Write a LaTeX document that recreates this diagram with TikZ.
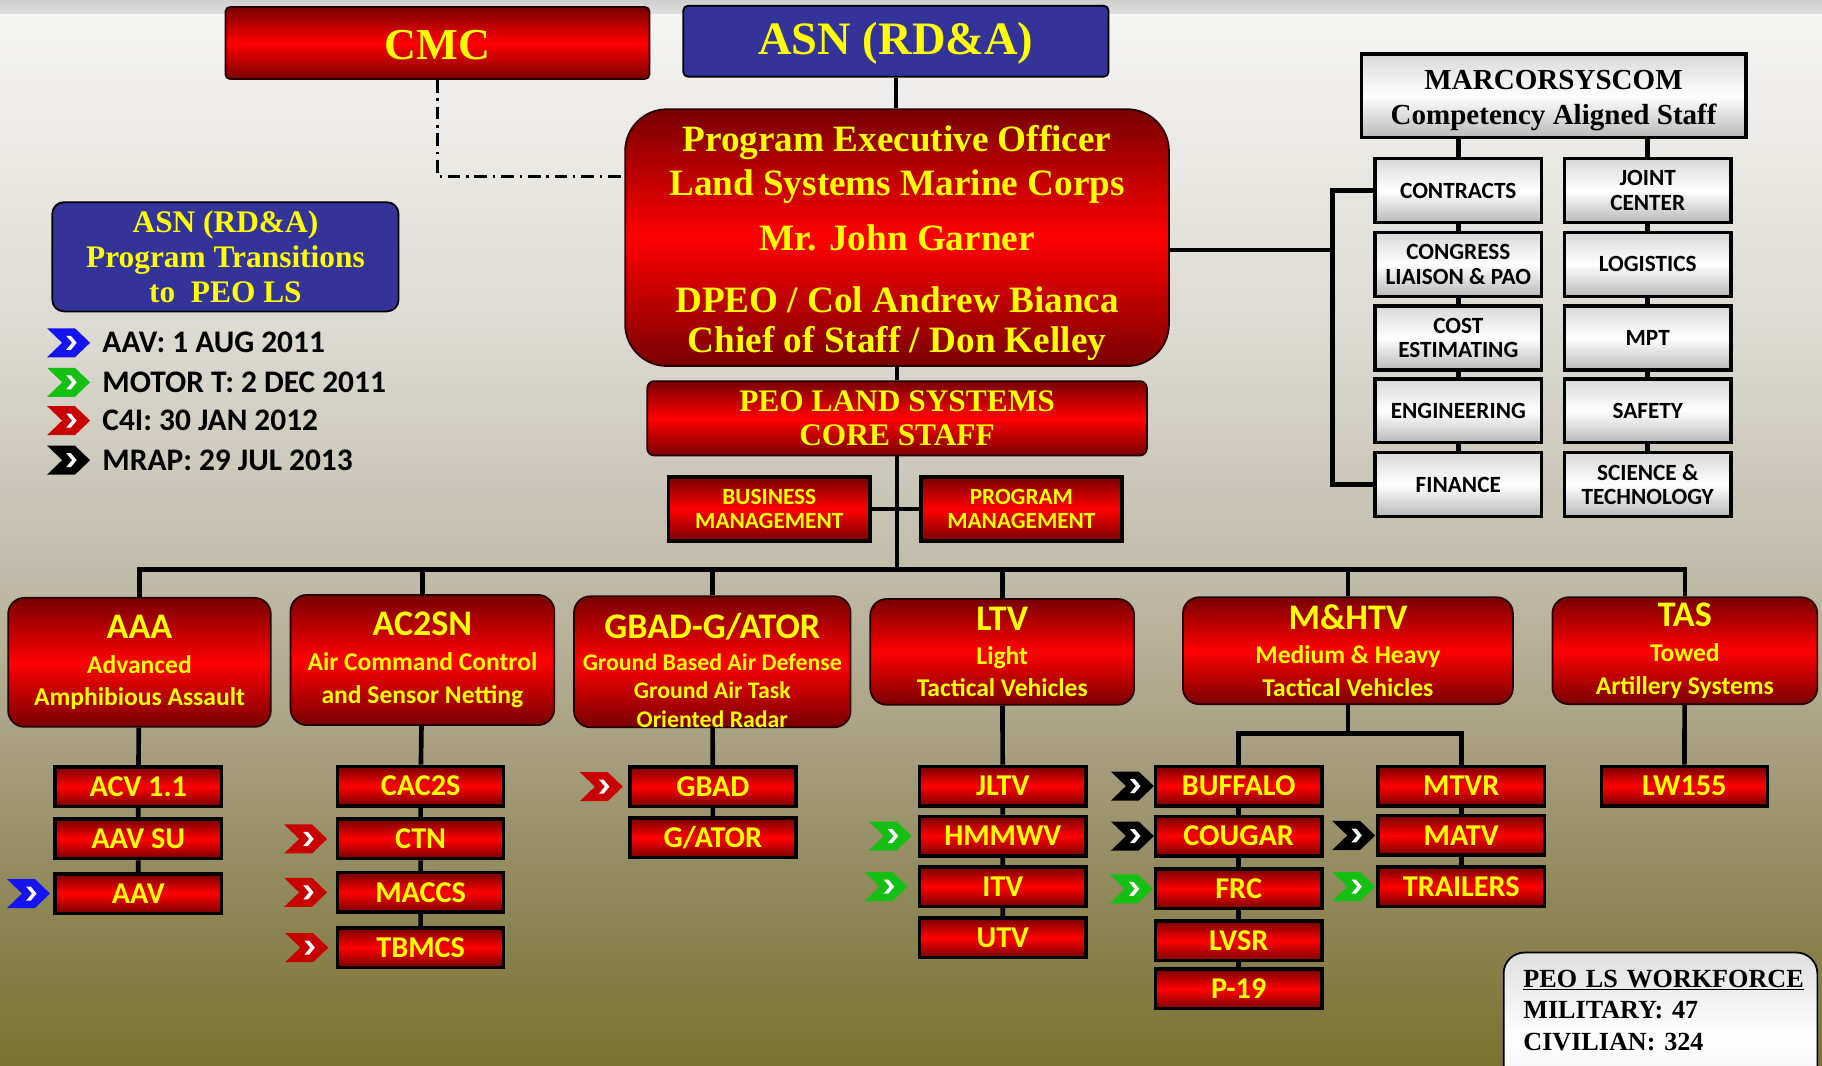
\documentclass[tikz,border=0pt]{standalone}
\usepackage{fontspec}
\setmainfont{Liberation Serif}
\newfontfamily\carlito{Carlito}
\usepackage{tikz}
\usepackage{xcolor}

\definecolor{asnblue}{HTML}{333399}
\definecolor{boxyellow}{HTML}{FFFF00}
\definecolor{deepred}{HTML}{780000}
\definecolor{chblue}{HTML}{1414F0}
\definecolor{chgreen}{HTML}{14C014}
\definecolor{chred}{HTML}{C80000}
\definecolor{bgA}{HTML}{7C7232}
\definecolor{bgB}{HTML}{918A5C}
\definecolor{bgC}{HTML}{A69E7E}
\definecolor{bgD}{HTML}{BFBAA6}
\definecolor{bgE}{HTML}{DBD8D0}
\definecolor{bgF}{HTML}{F4F4F2}

\pgfdeclareverticalshading{slidebg}{100bp}{color(0bp)=(bgA); color(25bp)=(bgA);
  color(33.7bp)=(bgB); color(39.6bp)=(bgC); color(47.7bp)=(bgD);
  color(58.6bp)=(bgE); color(74bp)=(bgF); color(100bp)=(bgF)}

\newcommand{\progtitle}[1]{{\fontsize{31}{31}\selectfont #1}}
\newcommand{\lift}[1]{\rule{0pt}{#1}}

\tikzset{
  redbox/.style={draw=black!85!red, line width=1.5pt, top color=deepred,
    bottom color=deepred, middle color=red, text=boxyellow, align=center, inner sep=0pt},
  bluebox/.style={draw=black, line width=1.5pt, fill=asnblue, text=boxyellow,
    align=center, inner sep=0pt},
  progbox/.style={redbox, rounded corners=14pt, font=\carlito\bfseries\fontsize{22}{28}\selectfont},
  subbox/.style={redbox, draw=black, line width=3pt, minimum width=143pt,
    minimum height=34pt, font=\carlito\bfseries\fontsize{26}{26}\selectfont},
  staffbox/.style={draw=black, line width=3pt, top color=gray!30, bottom color=gray!55,
    middle color=white, align=center, inner sep=0pt},
  staffitem/.style={staffbox, minimum width=143pt, minimum height=55pt,
    font=\carlito\bfseries\fontsize{20}{21}\selectfont},
  legtext/.style={anchor=west, inner sep=0pt, font=\carlito\bfseries\fontsize{27}{27}\selectfont},
  link/.style={line width=4pt},
  dashdot/.style={line width=3pt, dash pattern=on 11pt off 5pt on 2pt off 5pt},
  pics/chev/.style={code={
      \fill[#1] (-18.5,-12.5) -- (5.5,-12.5) -- (18.5,0) -- (5.5,12.5) -- (-18.5,12.5) -- (-5.5,0) -- cycle;
      \fill[white] (-2,-6) -- (2,-6) -- (7,0) -- (2,6) -- (-2,6) -- (3,0) -- cycle;
  }}
}

\begin{document}
\begin{tikzpicture}[x=1pt,y=-1pt]
                \clip (0,0) rectangle (1568,917);
                \fill[shading=slidebg] (0,0) rectangle (1568,917);
                \fill[top color=gray!38, bottom color=gray!25] (0,0) rectangle (1568,12);

                % top of the chart
                \node[redbox, rounded corners=4pt, minimum width=365pt, minimum height=62pt,
                      font=\bfseries\fontsize{38}{38}\selectfont] (cmc) at (376.5,37) {\lift{28pt}CMC};
                \node[bluebox, rounded corners=4pt, minimum width=366pt, minimum height=61pt,
                      font=\bfseries\fontsize{40}{40}\selectfont] (asn) at (771,35.5) {\lift{32pt}ASN (RD\&A)};
                \node[redbox, rounded corners=36pt, minimum width=468pt, minimum height=221pt,
                      font=\bfseries\fontsize{32}{35}\selectfont] (peo) at (772,204.5)
                      {\lift{32pt}Program Executive Officer\\[3pt] Land Systems Marine Corps\\[12pt]
                       Mr. John Garner\\[18pt] DPEO / Col Andrew Bianca\\ Chief of Staff / Don Kelley};
                \coordinate (cmcjoin) at (376.5,152);
                \draw[dashdot] (cmc.south) -- (cmcjoin) -- (cmcjoin -| peo.west);
                \draw[link] (asn.south) -- (asn.south |- peo.north);

                % transitions legend
                \node[bluebox, rounded corners=10pt, minimum width=298pt, minimum height=94pt,
                      font=\bfseries\fontsize{27}{30}\selectfont] (trans) at (194,221)
                      {ASN (RD\&A)\\ Program Transitions\\ to~~PEO LS};
                \pic at (59,295) {chev=chblue};
                \pic at (59,329) {chev=chgreen};
                \pic at (59,362) {chev=chred};
                \pic at (59,396) {chev=black};
                \node[legtext] (leg1) at (88,295) {AAV: 1 AUG 2011};
                \node[legtext] (leg2) at (88,329) {MOTOR T: 2 DEC 2011};
                \node[legtext] (leg3) at (88,362) {C4I: 30 JAN 2012};
                \node[legtext] (leg4) at (88,396) {MRAP: 29 JUL 2013};

                % competency aligned staff
                \node[staffbox, minimum width=331pt, minimum height=72pt,
                      font=\bfseries\fontsize{25}{30}\selectfont] (marc) at (1337,82.5)
                      {\lift{24pt}MARCORSYSCOM\\ Competency Aligned Staff};
                \node[staffitem] (contracts) at (1255,164) {CONTRACTS};
                \node[staffitem] (congress) at (1255,227.5) {CONGRESS\\ LIAISON \& PAO};
                \node[staffitem] (cost) at (1255,291) {COST\\ ESTIMATING};
                \node[staffitem] (engineering) at (1255,353.5) {ENGINEERING};
                \node[staffitem] (finance) at (1255,417) {FINANCE};
                \node[staffitem] (jc) at (1418,164) {JOINT\\ CENTER};
                \node[staffitem] (logistics) at (1418,227.5) {LOGISTICS};
                \node[staffitem] (mpt) at (1418,291) {MPT};
                \node[staffitem] (safety) at (1418,353.5) {SAFETY};
                \node[staffitem] (scitech) at (1418,417) {SCIENCE \&\\ TECHNOLOGY};
                \draw[link] (marc.south -| contracts) -- (contracts);
                \draw[link] (marc.south -| jc) -- (jc);
                \draw[link] (contracts) -- (congress) -- (cost) -- (engineering) -- (finance);
                \draw[link] (jc) -- (logistics) -- (mpt) -- (safety) -- (scitech);
                \coordinate (brk) at (1148,215);
                \draw[link] (contracts.west) -- ++(-35,0) |- (finance.west);
                \draw[link] (peo.east |- brk) -- (brk);

                % core staff
                \node[redbox, rounded corners=6pt, minimum width=430pt, minimum height=64pt,
                      font=\bfseries\fontsize{27}{29}\selectfont] (core) at (772,360)
                      {PEO LAND SYSTEMS\\ CORE STAFF};
                \node[subbox, minimum width=173pt, minimum height=55pt,
                      font=\carlito\bfseries\fontsize{20}{20}\selectfont] (bm) at (662,438)
                      {BUSINESS\\ MANAGEMENT};
                \node[subbox, minimum width=173pt, minimum height=55pt,
                      font=\carlito\bfseries\fontsize{20}{20}\selectfont] (pm) at (879,438)
                      {PROGRAM\\ MANAGEMENT};
                \draw[link] (peo.south) -- (peo.south |- core.north);
                \draw[link] (bm) -- (pm);
                \coordinate (bus) at (772,490);
                \draw[link] (core.south) -- (bus);

                % program offices
                \node[progbox, minimum width=226pt, minimum height=111pt] (aaa) at (120,570)
                      {\progtitle{AAA}\\[2pt] Advanced\\ Amphibious Assault};
                \node[progbox, minimum width=227pt, minimum height=112pt] (ac2sn) at (363.5,568)
                      {\progtitle{AC2SN}\\[2pt] Air Command Control\\ and Sensor Netting};
                \node[progbox, minimum width=238pt, minimum height=111pt,
                      font=\carlito\bfseries\fontsize{20.5}{24.5}\selectfont] (gbadg) at (613,569.5)
                      {\lift{36pt}\progtitle{GBAD-G/ATOR}\\[3pt] Ground Based Air Defense\\ Ground Air Task\\ Oriented Radar};
                \node[progbox, minimum width=227pt, minimum height=91pt] (ltv) at (862.5,561)
                      {\progtitle{LTV}\\[1pt] Light\\ Tactical Vehicles};
                \node[progbox, minimum width=284pt, minimum height=92pt] (mhtv) at (1160,560)
                      {\progtitle{M\&HTV}\\[1pt] Medium \& Heavy\\ Tactical Vehicles};
                \node[progbox, minimum width=228pt, minimum height=92pt] (tas) at (1450,560)
                      {\progtitle{TAS}\\[2pt] Towed\\ Artillery Systems};
                \draw[link] (aaa.north) |- (bus) -| (tas.north);
                \foreach \n in {ac2sn,gbadg,ltv,mhtv}
                    \draw[link] (\n.north) -- (\n.north |- bus);

                % programs
                \node[subbox] (acv) at (119,677) {ACV 1.1};
                \node[subbox] (aavsu) at (119,722) {AAV SU};
                \node[subbox] (aav) at (119,769) {AAV};
                \node[subbox] (cac2s) at (362,676.5) {CAC2S};
                \node[subbox] (ctn) at (362,722) {CTN};
                \node[subbox] (maccs) at (362,768) {MACCS};
                \node[subbox] (tbmcs) at (362,815.5) {TBMCS};
                \node[subbox] (gbad) at (613.5,677) {GBAD};
                \node[subbox] (gator) at (613.5,721) {G/ATOR};
                \node[subbox] (jltv) at (863,676.5) {JLTV};
                \node[subbox] (hmmwv) at (863,719.5) {HMMWV};
                \node[subbox] (itv) at (863,763) {ITV};
                \node[subbox] (utv) at (863,807) {UTV};
                \node[subbox] (buffalo) at (1066,676.5) {BUFFALO};
                \node[subbox] (cougar) at (1066,719.5) {COUGAR};
                \node[subbox] (frc) at (1066,765) {FRC};
                \node[subbox] (lvsr) at (1066,809.5) {LVSR};
                \node[subbox] (p19) at (1066,851) {P-19};
                \node[subbox] (mtvr) at (1257.5,676.5) {MTVR};
                \node[subbox] (matv) at (1257.5,719) {MATV};
                \node[subbox] (trailers) at (1257.5,763) {TRAILERS};
                \node[subbox] (lw155) at (1449.5,676.5) {LW155};
                \draw[link] (aaa) -- (acv) -- (aavsu) -- (aav);
                \draw[link] (ac2sn) -- (cac2s) -- (ctn) -- (maccs) -- (tbmcs);
                \draw[link] (gbadg) -- (gbad) -- (gator);
                \draw[link] (ltv) -- (jltv) -- (hmmwv) -- (itv) -- (utv);
                \coordinate (fork) at (1161,631);
                \draw[link] (mhtv.south) -- (mhtv.south |- fork);
                \draw[link] (buffalo.north) |- (fork) -| (mtvr.north);
                \draw[link] (buffalo) -- (cougar) -- (frc) -- (lvsr) -- (p19);
                \draw[link] (mtvr) -- (matv) -- (trailers);
                \draw[link] (tas) -- (lw155);

                % transition marks
                \pic at ([xshift=-21.5pt]aav.west) {chev=chblue};
                \pic at ([xshift=-26pt]ctn.west) {chev=chred};
                \pic at ([xshift=-26pt]maccs.west) {chev=chred};
                \pic at ([xshift=-25pt]tbmcs.west) {chev=chred};
                \pic at ([xshift=-23pt]gbad.west) {chev=chred};
                \pic at ([xshift=-24pt]hmmwv.west) {chev=chgreen};
                \pic at ([xshift=-27.5pt]itv.west) {chev=chgreen};
                \pic at ([xshift=-18.5pt]buffalo.west) {chev=black};
                \pic at ([xshift=-18.5pt]cougar.west) {chev=black};
                \pic at ([xshift=-19.5pt]frc.west) {chev=chgreen};
                \pic at ([xshift=-19.5pt]matv.west) {chev=black};
                \pic at ([xshift=-19.5pt]trailers.west) {chev=chgreen};

                % workforce
                \node[draw=black, line width=1.5pt, rounded corners=18pt, top color=gray!25,
                      bottom color=gray!20, middle color=white, anchor=north, align=left,
                      text width=236pt, inner xsep=17pt, inner ysep=15pt,
                      font=\bfseries\fontsize{22.5}{27}\selectfont] (wf) at (1429,819)
                      {\underline{PEO LS WORKFORCE}\\ MILITARY: 47\\ CIVILIAN: 324\rule[-45pt]{0pt}{45pt}};
            \end{tikzpicture}
\end{document}
